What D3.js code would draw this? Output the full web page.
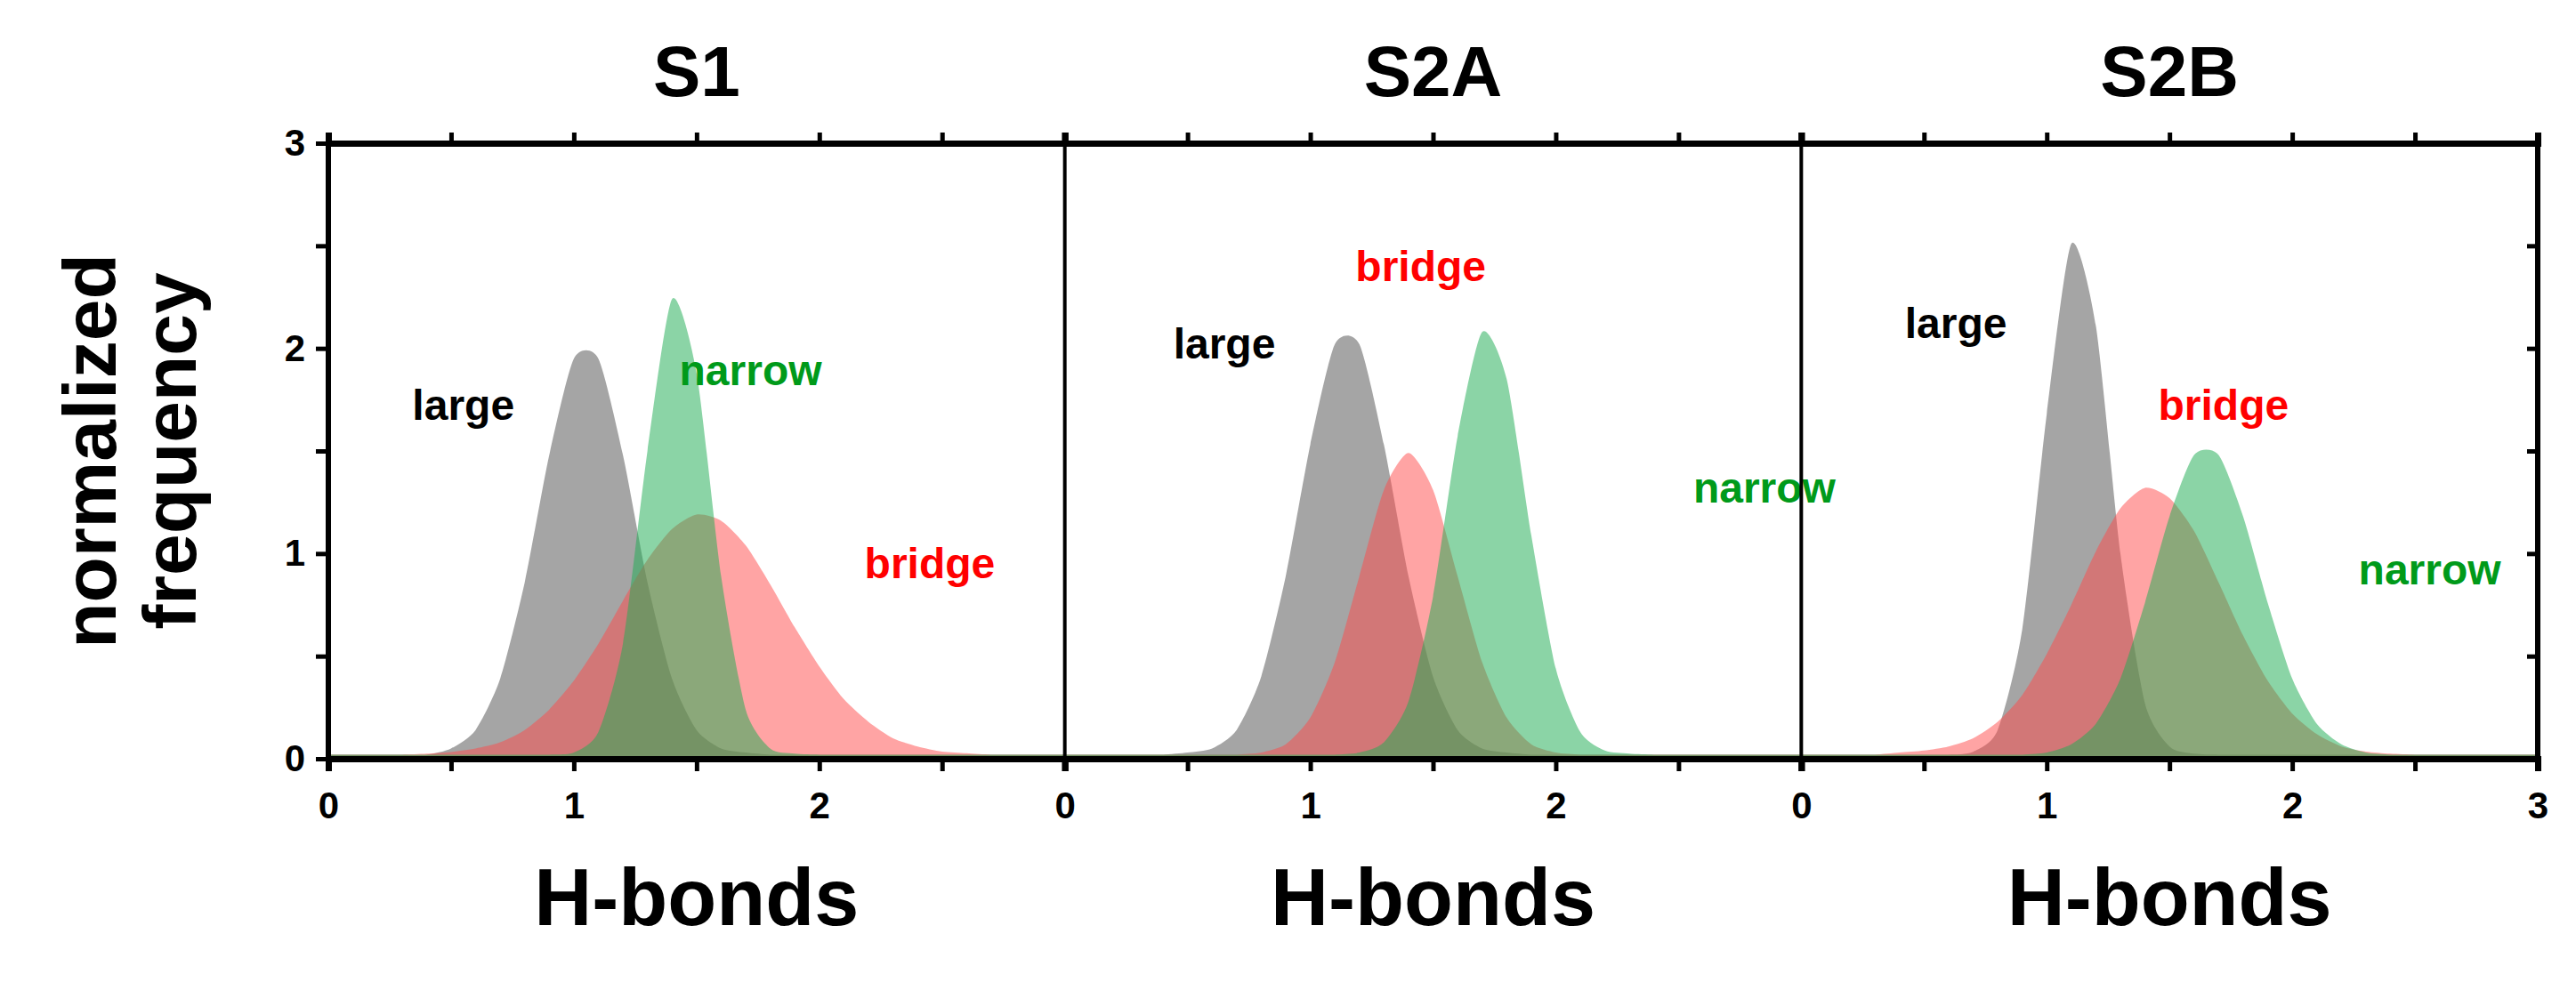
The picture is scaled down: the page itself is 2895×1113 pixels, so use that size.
<!DOCTYPE html>
<html><head><meta charset="utf-8">
<script src="https://cdn.jsdelivr.net/npm/d3@7"></script>
<style>body{margin:0;background:#fff}text{font-family:"Liberation Sans",Arial,sans-serif;font-weight:bold}</style>
</head><body><svg id="c" width="2895" height="1113"></svg>
<script>
const xs = d3.range(0, 31).map(i => i / 10);
const panels = ["S1", "S2A", "S2B"];
const xTicks = [0, 1, 2, 3];
const yTicks = [0, 1, 2, 3];
// values at x = 0.0, 0.1, ... 3.0
const s1Large  = [0,0,0,0,0,.03,.12,.37,.84,1.46,1.93,1.93,1.46,.84,.37,.12,.03,.01,0,0,0,0,0,0,0,0,0,0,0,0,0];
const s1Narrow = [0,0,0,0,0,0,0,0,0,0,.01,.11,.54,1.48,2.22,1.86,.87,.22,.03,.005,0,0,0,0,0,0,0,0,0,0,0];
const s1Bridge = [0,0,0,0,.005,.013,.03,.06,.12,.22,.36,.54,.75,.95,1.10,1.17,1.14,1.02,.83,.62,.43,.27,.16,.08,.04,.015,.007,0,0,0,0];
const s2aLarge  = [0,0,0,0,0,.01,.03,.12,.38,.87,1.51,2.0,2.0,1.51,.87,.38,.12,.03,.01,0,0,0,0,0,0,0,0,0,0,0,0];
const s2aNarrow = [0,0,0,0,0,0,0,0,0,0,0,0,.01,.06,.26,.77,1.55,2.06,1.83,1.07,.42,.11,.02,.005,0,0,0,0,0,0,0];
const s2aBridge = [0,0,0,0,0,0,0,0,.01,.05,.18,.45,.87,1.29,1.47,1.29,.87,.45,.18,.05,.01,0,0,0,0,0,0,0,0,0,0];
const s2bLarge  = [0,0,0,0,0,0,0,.014,.12,.61,1.66,2.49,2.09,.98,.25,.04,.005,0,0,0,0,0,0,0,0,0,0,0,0,0,0];
const s2bNarrow = [0,0,0,0,0,0,0,0,0,0,.01,.05,.15,.37,.74,1.16,1.46,1.46,1.16,.74,.37,.15,.05,.01,0,0,0,0,0,0,0];
const s2bBridge = [0,0,0,0,.01,.02,.04,.08,.16,.29,.49,.73,.99,1.20,1.30,1.25,1.09,.84,.58,.36,.20,.10,.04,.015,.005,0,0,0,0,0,0];
const seriesNames = ["large", "bridge", "narrow"];
const panelData = [[s1Large, s1Bridge, s1Narrow],[s2aLarge, s2aBridge, s2aNarrow],[s2bLarge, s2bBridge, s2bNarrow]];
const fills = {large:"#7a7a7a", bridge:"#ff4a4a", narrow:"#20ad55"};
const ops = {large:0.68, bridge:0.5, narrow:0.52};
const textCol = {large:"#000", bridge:"#ff0000", narrow:"#009a1a"};
// label anchor positions in data units [x,y]
const labelPos = [
  {large:[0.55,1.65], narrow:[1.72,1.82], bridge:[2.45,0.88]},
  {large:[0.65,1.95], bridge:[1.45,2.33], narrow:[2.85,1.25]},
  {large:[0.63,2.05], bridge:[1.72,1.65], narrow:[2.56,0.85]}
];
(function(){
const svg = d3.select("#c");
const L = 369, R = 2852, T = 161, B = 853;
const pw = (R - L) / 3;
const y = d3.scaleLinear().domain([0, 3]).range([B, T]);
const base = 0.02;
panels.forEach((p, i) => {
  const x = d3.scaleLinear().domain([0, 3]).range([L + i * pw, L + (i + 1) * pw]);
  const g = svg.append("g");
  const area = d3.area().x((d, k) => x(xs[k])).y0(y(0)).y1(d => y(d + base)).curve(d3.curveCardinal.tension(0.3));
  seriesNames.forEach((s, j) => {
    g.append("path").attr("d", area(panelData[i][j])).attr("fill", fills[s]).attr("fill-opacity", ops[s]);
  });
  seriesNames.forEach((s) => {
    const lp = labelPos[i][s];
    g.append("text").attr("x", x(lp[0])).attr("y", y(lp[1])).attr("text-anchor", "middle")
      .attr("font-size", 48).attr("fill", textCol[s]).text(s);
  });
  const bAx = d3.axisBottom(x).tickValues(d3.range(0, 3.01, 0.5)).tickSize(14).tickFormat(d => (d % 1 === 0 && (i === 2 || d < 3)) ? d : "");
  const ga = svg.append("g").attr("transform", `translate(0,${B})`).call(bAx);
  ga.select(".domain").attr("stroke-width", 7);
  ga.selectAll(".tick line").attr("stroke-width", 5);
  ga.selectAll(".tick text").attr("font-size", 42).attr("dy", "1.2em").attr("font-family", "Liberation Sans");
  const tAx = d3.axisTop(x).tickValues(d3.range(0, 3.01, 0.5)).tickSize(12).tickFormat("");
  const gt = svg.append("g").attr("transform", `translate(0,${T})`).call(tAx);
  gt.select(".domain").attr("stroke-width", 7);
  gt.selectAll(".tick line").attr("stroke-width", 5);
  svg.append("line").attr("x1", x(0)).attr("x2", x(0)).attr("y1", T).attr("y2", B).attr("stroke", "#000").attr("stroke-width", i === 0 ? 6 : 4);
  svg.append("text").attr("x", x(1.5)).attr("y", 108).attr("text-anchor", "middle").attr("font-size", 80).text(p);
  svg.append("text").attr("x", x(1.5)).attr("y", 1040).attr("text-anchor", "middle").attr("font-size", 90).text("H-bonds");
});
svg.append("line").attr("x1", R).attr("x2", R).attr("y1", T).attr("y2", B).attr("stroke", "#000").attr("stroke-width", 6);
const yAx = d3.axisLeft(y).tickValues(d3.range(0, 3.01, 0.5)).tickSize(14).tickFormat(d => d % 1 === 0 ? d : "");
const gy = svg.append("g").attr("transform", `translate(${L},0)`).call(yAx);
gy.select(".domain").remove();
gy.selectAll(".tick line").attr("stroke-width", 5);
gy.selectAll(".tick text").attr("font-size", 42).attr("font-family", "Liberation Sans").attr("x", -26);
const yr = d3.axisLeft(y).tickValues(d3.range(0, 3.01, 0.5)).tickSize(12).tickFormat("");
const gr = svg.append("g").attr("transform", `translate(${R},0)`).call(yr);
gr.select(".domain").remove();
gr.selectAll(".tick line").attr("stroke-width", 5);
svg.append("text").attr("transform", "translate(130,507) rotate(-90)").attr("text-anchor", "middle").attr("font-size", 84).text("normalized");
svg.append("text").attr("transform", "translate(220,507) rotate(-90)").attr("text-anchor", "middle").attr("font-size", 84).text("frequency");
})();
</script></body></html>
